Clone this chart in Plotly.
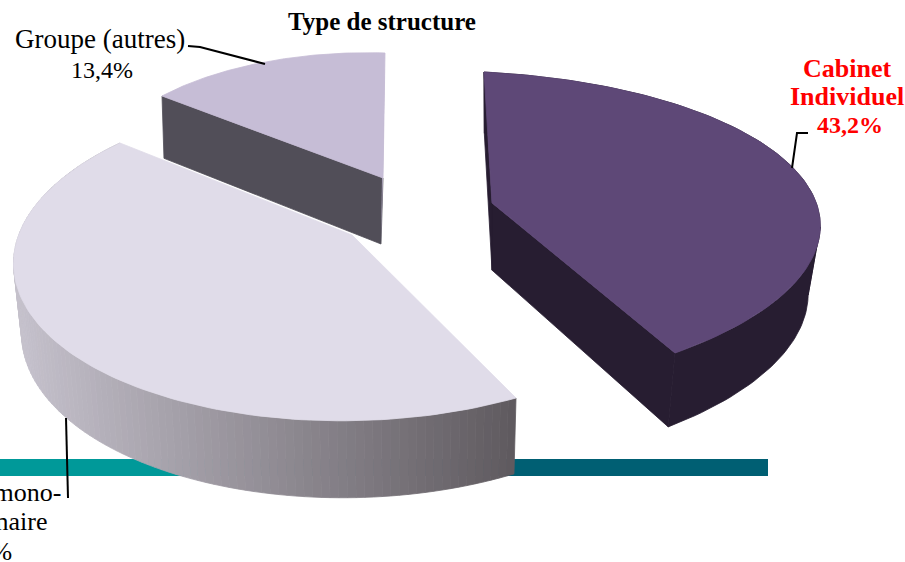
import numpy as np
import plotly.graph_objects as go

categories = ["Cabinet Individuel", "Groupe mono-disciplinaire", "Groupe (autres)"]
values = [43.2, 43.4, 13.4]
top_colors = ["#5e4877", "#e0dce9", "#c6bdd6"]
wall_colors = ["#271d31", None, "#514e58"]

# Screen anchors of each exploded slice: centre, rim start, rim middle, rim end
anchors = [
    [(492, 203), (484, 72), (797, 172), (675, 353)],
    [(352, 235), (516, 398), (60, 345), (120, 143)],
    [(383, 178), (162, 96), (265, 62), (385, 53)],
]
# Per-slice depth convergence: vanishing x and scale
depth_vp = [492, 415, 272]
depth_scale = [0.963, 0.98, 0.982]


def homography(src, dst):
    A, b = [], []
    for (u, v), (X, Y) in zip(src, dst):
        A.append([u, v, 1, 0, 0, 0, -u * X, -v * X]); b.append(X)
        A.append([0, 0, 0, u, v, 1, -u * Y, -v * Y]); b.append(Y)
    return np.append(np.linalg.solve(np.array(A, float), np.array(b, float)), 1).reshape(3, 3)


def rim(theta):
    return np.sin(theta), -np.cos(theta)


def project(H, u, v):
    p = H @ np.array([u, v, np.ones_like(u)])
    return p[0] / p[2], p[1] / p[2]


def drop(x, y, i):
    return depth_vp[i] + (x - depth_vp[i]) * depth_scale[i], y + 58 + 0.045 * y


def poly(x, y, color, line=True):
    return go.Scatter(x=x, y=y, mode="lines", fill="toself", fillcolor=color,
                      line=dict(color=color, width=0.8 if line else 0),
                      hoverinfo="skip", showlegend=False)


def lerp_color(t):
    a, b = np.array([0xc6, 0xc2, 0xcd]), np.array([0x5f, 0x5a, 0x5f])
    c = a + (b - a) * t
    return "rgb(%d,%d,%d)" % tuple(c)


fractions = np.array(values) / sum(values)
edges = np.concatenate([[0], np.cumsum(fractions)]) * 2 * np.pi

fig = go.Figure()

# teal rule behind the pie
fig.add_shape(type="rect", xref="x", yref="y", x0=0, x1=250, y0=459, y1=476,
              fillcolor="#009999", line=dict(width=0), layer="below")
fig.add_shape(type="rect", xref="x", yref="y", x0=250, x1=768, y0=459, y1=476,
              fillcolor="#005f73", line=dict(width=0), layer="below")

for i in [2, 0, 1]:
    t0, t1 = edges[i], edges[i + 1]
    src = [(0, 0), rim(t0), rim((t0 + t1) / 2), rim(t1)]
    H = homography(src, anchors[i])
    th = np.linspace(t0, t1, 121)
    rx, ry = project(H, *rim(th))
    bx, by = drop(rx, ry, i)
    cx, cy = anchors[i][0]
    dcx, dcy = drop(float(cx), float(cy), i)

    if i == 1:
        # shaded outer wall
        lo, hi = rx.min(), rx.max()
        for k in range(len(th) - 1):
            xs = [rx[k], rx[k + 1], bx[k + 1], bx[k], rx[k]]
            ys = [ry[k], ry[k + 1], by[k + 1], by[k], ry[k]]
            tm = (rx[k] + rx[k + 1] - 2 * lo) / 2 / (hi - lo)
            fig.add_trace(poly(xs, ys, lerp_color(tm)))
    elif i == 0:
        # rim wall split at the rightmost point, then end and start faces
        m = int(np.argmax(rx))
        for a, b in [(0, m + 1), (m, len(th))]:
            fig.add_trace(poly(list(rx[a:b]) + list(bx[a:b][::-1]) + [rx[a]],
                               list(ry[a:b]) + list(by[a:b][::-1]) + [ry[a]], wall_colors[i]))
        fig.add_trace(poly([rx[-1], cx, dcx, bx[-1], rx[-1]],
                           [ry[-1], cy, dcy, by[-1], ry[-1]], wall_colors[i]))
        fig.add_trace(poly([rx[0], cx, dcx, bx[0], rx[0]],
                           [ry[0], cy, dcy, by[0], ry[0]], wall_colors[i]))
    else:
        fig.add_trace(poly([rx[0], cx, dcx, bx[0], rx[0]],
                           [ry[0], cy, dcy, by[0], ry[0]], wall_colors[i]))
        fig.add_trace(poly([rx[-1], cx, dcx, bx[-1], rx[-1]],
                           [ry[-1], cy, dcy, by[-1], ry[-1]], "#aca4ba", line=False))
    fig.add_trace(poly([cx] + list(rx) + [cx], [cy] + list(ry) + [cy], top_colors[i]))

# leader lines
leaders = [
    ([808, 797, 792], [133, 133, 168]),
    ([188, 200, 265], [46, 47, 64]),
    ([66, 68], [418, 498]),
]
for lx, ly in leaders:
    fig.add_trace(go.Scatter(x=lx, y=ly, mode="lines", line=dict(color="#000000", width=2),
                             hoverinfo="skip", showlegend=False))

FONT = "Liberation Serif"


def label(text, x, y, size=26, color="#000000", anchor="center"):
    fig.add_annotation(x=x / 905, y=1 - y / 562, xref="paper", yref="paper", showarrow=False,
                       xanchor=anchor, yanchor="middle", text=text,
                       font=dict(family=FONT, size=size, color=color))


label("<b>Type de structure</b>", 382, 22, size=25)
label("Groupe (autres)", 100, 39, size=27)
label("13,4%", 102, 70, size=24)
label("<b>Cabinet</b>", 847, 68, color="#ff0000")
label("<b>Individuel</b>", 847, 96, color="#ff0000")
label("<b>43,2%</b>", 850, 125, size=24, color="#ff0000")
label("Groupe mono-", 63, 492, anchor="right")
label("disciplinaire", 50, 521, anchor="right")
label("43,4%", 14, 551, anchor="right")

fig.update_layout(width=905, height=562, margin=dict(l=0, r=0, t=0, b=0),
                  paper_bgcolor="#ffffff", plot_bgcolor="#ffffff", showlegend=False,
                  xaxis=dict(range=[0, 905], visible=False, fixedrange=True),
                  yaxis=dict(range=[562, 0], visible=False, fixedrange=True))

fig.write_html("out.html", config={"displayModeBar": False},
               post_script="document.body.style.margin='0';document.body.style.overflow='hidden';")
